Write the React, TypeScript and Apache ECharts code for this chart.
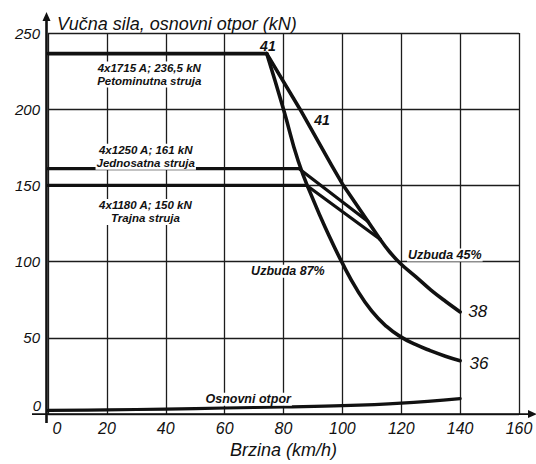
import React, { useEffect, useRef } from "react";
import * as echarts from "echarts";

// Axis ranges
const xMin = 0;
const xMax = 160;
const xStep = 20;
const yMin = 0;
const yMax = 250;
const yStep = 50;

// Curves (speed km/h, force kN)
const petominutna = [[0, 236.5], [74.3, 236.5]];
const branch41to38 = [[74.3, 236.5], [85.6, 200], [96.4, 163], [100, 151], [108.7, 126.4], [112.8, 114.7]];
const uzbuda45 = [[112.8, 114.7], [116, 106.5], [119.6, 99], [125, 90], [130, 81.5], [135, 74], [140, 67]];
const uzbuda87 = [[74.3, 236.5], [80, 200], [85, 166], [90, 141], [95, 119], [100, 99], [105, 81.5], [110, 67.5], [115, 57.5], [120, 50.5], [125, 45.5], [130, 41.5], [135, 38], [140, 35]];
const jednosatna = [[0, 161], [85.3, 161], [108.7, 126.4]];
const trajna = [[0, 150], [87.9, 150], [112.8, 114.7]];
const osnovniOtpor = [[0, 2.4], [20, 2.8], [40, 3.3], [60, 4], [80, 4.7], [100, 5.5], [120, 7.2], [140, 10.2]];

// Annotations: text and anchor in data coordinates
const annotationTexts = [
  "41", "41", "38", "36", "Uzbuda 45%", "Uzbuda 87%",
  "4x1715 A; 236,5 kN\nPetominutna struja",
  "4x1250 A; 161 kN\nJednosatna struja",
  "4x1180 A; 150 kN\nTrajna struja",
  "Osnovni otpor",
];
const annotationAnchors = [
  [74.7, 241.8], [93.1, 193], [146, 67], [146.4, 33.5], [134.8, 104.4], [81.5, 93.7],
  [34.4, 222.8],
  [33.2, 168.8],
  [33.1, 132.6],
  [68, 9.7],
];
const annotationKinds = [
  "num", "num", "numBig", "numBig", "note", "note",
  "block", "block", "block", "note",
];

const yTitle = "Vučna sila, osnovni otpor (kN)";
const xTitle = "Brzina (km/h)";

const FONT = '"Liberation Sans", Arial, sans-serif';
const INK = "#111";

export default function App() {
  const ref = useRef<HTMLDivElement>(null);

  useEffect(() => {
    if (!ref.current) return;
    const chart = echarts.init(ref.current, undefined, { renderer: "svg" });

    const lineSeries = (data: number[][], smooth: boolean | number, width = 3.6) => ({
      type: "line",
      data,
      smooth,
      symbol: "none",
      silent: true,
      lineStyle: { color: INK, width, join: "round", cap: "round" },
      z: 5,
    });

    chart.setOption({
      animation: false,
      backgroundColor: "#fff",
      grid: { left: 48, right: 17, top: 33, bottom: 36 },
      xAxis: {
        type: "value",
        min: xMin,
        max: xMax,
        interval: xStep,
        name: xTitle,
        nameLocation: "middle",
        nameGap: 17,
        nameTextStyle: { fontSize: 18, fontStyle: "italic", fontFamily: FONT, color: INK },
        axisLine: { show: false },
        axisTick: { show: false },
        axisLabel: {
          margin: 6,
          fontSize: 16,
          fontStyle: "italic",
          fontFamily: FONT,
          color: INK,
          formatter: (v: number) => (v === 0 ? "{z|0}" : String(v)),
          rich: {
            z: { fontSize: 16, fontStyle: "italic", fontFamily: FONT, color: INK, padding: [0, 0, 0, 18] },
          },
        },
        splitLine: { show: true, lineStyle: { color: "#1c1c1c", width: 1.3 } },
      },
      yAxis: {
        type: "value",
        min: yMin,
        max: yMax,
        interval: yStep,
        axisLine: { show: false },
        axisTick: { show: false },
        axisLabel: {
          margin: 8,
          fontSize: 15,
          fontStyle: "italic",
          fontFamily: FONT,
          color: INK,
          // the "0" label sits a little above the axis in the reference; drawn separately below
          formatter: (v: number) => (v === yMin ? "" : String(v)),
        },
        splitLine: { show: true, lineStyle: { color: "#1c1c1c", width: 1.3 } },
      },
      series: [
        lineSeries(petominutna, false),
        lineSeries(branch41to38, false),
        lineSeries(uzbuda45, 0.4),
        lineSeries(uzbuda87, 0.5),
        lineSeries(jednosatna, false, 3.2),
        lineSeries(trajna, false, 3.2),
        lineSeries(osnovniOtpor, 0.4, 3.2),
      ],
    });

    const toPx = (p: number[]) => chart.convertToPixel({ gridIndex: 0 }, p) as number[];
    const origin = toPx([xMin, yMin]);
    const topLeft = toPx([xMin, yMax]);
    const rightEnd = toPx([xMax, yMin]);

    const axisX = origin[0] - 1.5;
    const yTop = topLeft[1] - 21;
    const xRight = rightEnd[0] + 18;

    const styleFor = (kind: string) => {
      if (kind === "num")
        return { fontSize: 14, fontStyle: "italic", fontWeight: "bold" };
      if (kind === "numBig")
        return { fontSize: 17, fontStyle: "italic", fontWeight: "normal" };
      if (kind === "block")
        return { fontSize: 11.5, fontStyle: "italic", fontWeight: "bold", lineHeight: 13 };
      return { fontSize: 12.5, fontStyle: "italic", fontWeight: "bold" };
    };

    const texts = annotationTexts.map((t, i) => {
      const p = toPx(annotationAnchors[i]);
      const kind = annotationKinds[i];
      const s = styleFor(kind);
      const boxed = kind === "note" || kind === "block";
      return {
        type: "text",
        x: p[0],
        y: p[1],
        z: 10,
        silent: true,
        style: {
          text: t,
          fill: INK,
          fontFamily: FONT,
          ...s,
          align: "center",
          verticalAlign: "middle",
          textAlign: "center",
          textVerticalAlign: "middle",
          backgroundColor: boxed ? "#fff" : undefined,
          padding: boxed ? [0, 1] : 0,
        },
      };
    });

    chart.setOption({
      graphic: [
        // vertical axis
        {
          type: "line",
          z: 8,
          silent: true,
          shape: { x1: axisX, y1: origin[1] + 9, x2: axisX, y2: yTop + 6 },
          style: { stroke: INK, lineWidth: 2.6 },
        },
        {
          type: "polygon",
          z: 8,
          silent: true,
          shape: { points: [[axisX, yTop], [axisX - 4, yTop + 9], [axisX + 4, yTop + 9]] },
          style: { fill: INK },
        },
        // horizontal axis
        {
          type: "line",
          z: 8,
          silent: true,
          shape: { x1: origin[0] - 16, y1: origin[1], x2: xRight - 6, y2: origin[1] },
          style: { stroke: INK, lineWidth: 1.8 },
        },
        {
          type: "polygon",
          z: 8,
          silent: true,
          shape: { points: [[xRight, origin[1]], [xRight - 9, origin[1] - 4], [xRight - 9, origin[1] + 4]] },
          style: { fill: INK },
        },
        // y-axis "0" tick label
        {
          type: "text",
          z: 10,
          silent: true,
          x: origin[0] - 7,
          y: origin[1] - 9,
          style: {
            text: String(yMin),
            fill: INK,
            fontFamily: FONT,
            fontSize: 15,
            fontStyle: "italic",
            align: "right",
            verticalAlign: "middle",
            textAlign: "right",
            textVerticalAlign: "middle",
          },
        },
        // axis title (top)
        {
          type: "text",
          z: 10,
          silent: true,
          x: 57,
          y: 24,
          style: {
            text: yTitle,
            fill: INK,
            fontFamily: FONT,
            fontSize: 18,
            fontStyle: "italic",
            align: "left",
            verticalAlign: "middle",
            textAlign: "left",
            textVerticalAlign: "middle",
          },
        },
        ...texts,
      ],
    });

    return () => chart.dispose();
  }, []);

  return (
    <div
      ref={ref}
      style={{ position: "absolute", left: 0, top: 0, width: 536, height: 464, background: "#fff" }}
    />
  );
}
